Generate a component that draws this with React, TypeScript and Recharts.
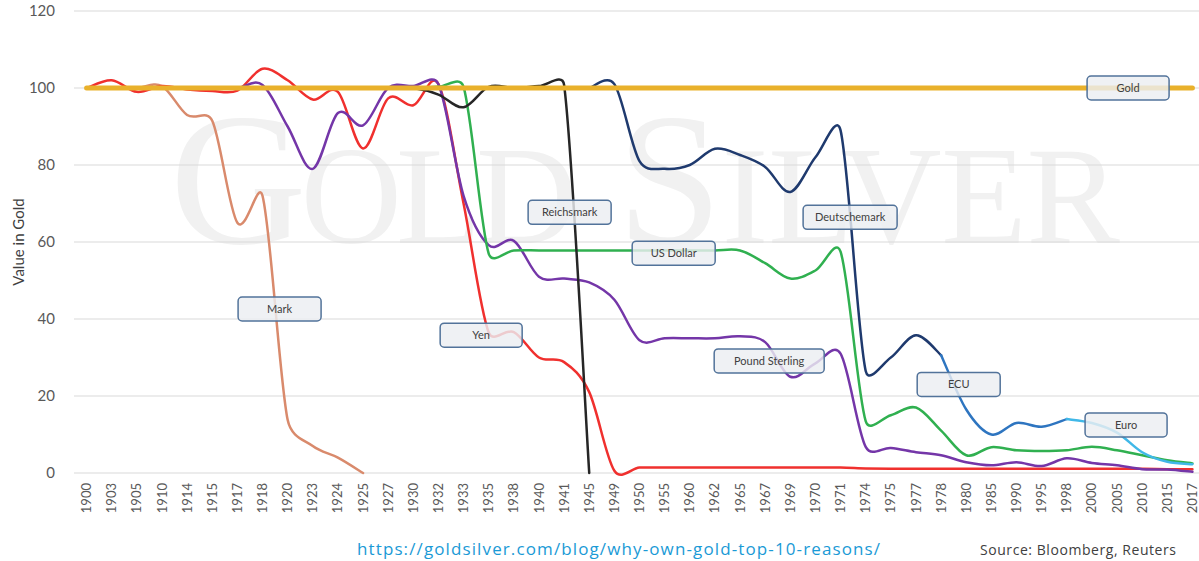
import React from 'react';
import { LineChart, Line, XAxis, YAxis, CartesianGrid, ReferenceDot } from 'recharts';

const years = ['1900','1903','1905','1910','1914','1915','1917','1918','1920','1923','1924','1925','1927','1930','1932','1933','1935','1938','1940','1941','1945','1949','1950','1955','1960','1962','1965','1967','1969','1970','1971','1974','1975','1977','1978','1980','1985','1990','1995','1998','2000','2005','2010','2015','2017'];

const gold = [100,100,100,100,100,100,100,100,100,100,100,100,100,100,100,100,100,100,100,100,100,100,100,100,100,100,100,100,100,100,100,100,100,100,100,100,100,100,100,100,100,100,100,100,100];

const mark = [100,100,100,100.5,93,91.5,65,72,13.8,7,4,0,
  null,null,null,null,null,null,null,null,null,null,null,null,null,null,null,null,null,null,null,null,null,null,null,null,null,null,null,null,null,null,null,null,null];

const yen = [100,102,99,100.5,99.6,99.2,99.3,105,102,97,99,84.3,97.3,95.5,101,70,36.5,36.6,30,28.8,21,0.6,1.4,1.4,1.4,1.4,1.4,1.4,1.4,1.4,1.4,1.2,1.1,1.1,1.1,1.1,1.1,1.1,1.1,1.1,1.1,1.1,1.1,1.0,1.0];

const pound = [100,100,100,100,100,100,100,100.8,90,79,93.5,90.3,100,100.5,101,72,59.2,60.3,51,50.5,49.5,45,34.5,35,35,35,35.5,34,25,28.5,31,6.8,6.5,5.4,4.6,2.8,2.0,2.8,1.8,3.8,2.6,2.0,1.0,0.9,0.3];

const usDollar = [100,100,100,100,100,100,100,100,100,100,100,100,100,100,100.3,100.3,57,57.8,57.8,57.8,57.8,57.8,57.8,57.8,57.8,57.8,57.8,54.5,50.5,52.6,57.5,13.5,15,17,11,4.6,6.7,5.9,5.7,5.9,6.8,5.9,4.6,3.3,2.5];

const reichsmark = [null,null,null,null,null,null,null,null,null,null,
  100,100,100,100,98.3,95,100.3,100,100.5,100.8,0,
  null,null,null,null,null,null,null,null,null,null,null,null,null,null,null,null,null,null,null,null,null,null,null,null];

const deutschemark = [null,null,null,null,null,null,null,null,null,null,null,null,null,null,null,null,null,null,null,null,
  100,101,81,79,80,84.2,82.6,79.5,73,82,89,26.5,30,35.8,30.6,
  null,null,null,null,null,null,null,null,null,null];

const ecu = [null,null,null,null,null,null,null,null,null,null,null,null,null,null,null,null,null,null,null,null,null,null,null,null,null,null,null,null,null,null,null,null,null,null,
  30.6,16.5,10,13,12,14,
  null,null,null,null,null];

const euro = [null,null,null,null,null,null,null,null,null,null,null,null,null,null,null,null,null,null,null,null,null,null,null,null,null,null,null,null,null,null,null,null,null,null,null,null,null,null,null,
  14,13,10.5,5.4,2.9,2.3];

const yTicks = [0,20,40,60,80,100,120];

// annotation callouts: label text, position in category-index units and value units
const calloutNames = ['Gold','Mark','Yen','Reichsmark','US Dollar','Deutschemark','Pound Sterling','ECU','Euro'];
const calloutIndex = [41.44,7.68,15.7,19.22,23.36,30.38,27.16,34.7,41.36];
const calloutValue = [100,42.6,35.8,67.7,57.1,66.4,29.1,23,12.5];
const calloutWidth = [82,83,82,83,83,94,110,83,82];

const chartData = years.map((y, i) => ({
  year: y,
  idx: i,
  gold: gold[i],
  mark: mark[i],
  yen: yen[i],
  pound: pound[i],
  usd: usDollar[i],
  reich: reichsmark[i],
  dm: deutschemark[i],
  ecu: ecu[i],
  euro: euro[i],
}));

// Excel-like smoothing: Bezier with 1/6 tangents, clamped to half the segment length
function smoothCurve(context: any) {
  let pts: number[][] = [];
  const dist = (a: number[], b: number[]) => Math.hypot(a[0] - b[0], a[1] - b[1]);
  return {
    areaStart() {},
    areaEnd() {},
    lineStart() { pts = []; },
    lineEnd() {
      const n = pts.length;
      if (n === 0) return;
      context.moveTo(pts[0][0], pts[0][1]);
      if (n === 1) return;
      for (let i = 0; i < n - 1; i++) {
        const p0 = pts[i - 1] || pts[i];
        const p1 = pts[i];
        const p2 = pts[i + 1];
        const p3 = pts[i + 2] || p2;
        const d12 = dist(p1, p2);
        const d02 = dist(p0, p2);
        const d13 = dist(p1, p3);
        const f = d02 > 0 ? Math.min(1 / 6, (d12 / 2) / d02) : 0;
        const g = d13 > 0 ? Math.min(1 / 6, (d12 / 2) / d13) : 0;
        context.bezierCurveTo(
          p1[0] + (p2[0] - p0[0]) * f,
          p1[1] + (p2[1] - p0[1]) * f,
          p2[0] - (p3[0] - p1[0]) * g,
          p2[1] - (p3[1] - p1[1]) * g,
          p2[0],
          p2[1]
        );
      }
    },
    point(x: number, y: number) { pts.push([+x, +y]); },
  };
}

const XTick = (props: any) => {
  const { x, y, payload } = props;
  return (
    <g transform={`translate(${x},${y})`}>
      <text transform="rotate(-90)" x={-10} y={0} dy="0.35em" textAnchor="end" fill="#595959" fontSize={13} fontFamily="Lato">
        {payload.value}
      </text>
    </g>
  );
};

const makeCallout = (name: string, w: number) => (props: any) => {
  const { cx, cy } = props;
  return (
    <g>
      <rect x={cx - w / 2} y={cy - 12} width={w} height={24} rx={4} ry={4} fill="#eceef1" fillOpacity={0.82} stroke="#52739a" strokeWidth={1.5} />
      <text x={cx} y={cy} dy="0.35em" textAnchor="middle" fontSize={11} fill="#404040" fontFamily="Lato">{name}</text>
    </g>
  );
};

const PAD = 12.57;

const lineSeries = [
  { key: 'mark', color: '#D98A6C', w: 2.5 },
  { key: 'yen', color: '#F0302E', w: 2.5 },
  { key: 'pound', color: '#7436A8', w: 2.5 },
  { key: 'usd', color: '#30B050', w: 2.5 },
  { key: 'reich', color: '#262626', w: 2.5 },
  { key: 'dm', color: '#1F3A6E', w: 2.5 },
  { key: 'ecu', color: '#2E75C0', w: 2.5 },
  { key: 'euro', color: '#40B8E8', w: 2.5 },
  { key: 'gold', color: '#E9B12B', w: 5 },
];

export default function App() {
  return (
    <div style={{ position: 'absolute', left: 0, top: 0, width: 1199, height: 561, overflow: 'hidden', background: '#ffffff' }}>
      <svg width={1199} height={561} style={{ position: 'absolute', left: 0, top: 0 }}>
        <text x={170} y={243} fontFamily="Liberation Serif" fill="#f1f1f1" textLength={407} lengthAdjust="spacing">
          <tspan fontSize={189}>G</tspan><tspan fontSize={140}>OLD</tspan>
        </text>
        <text x={617} y={243} fontFamily="Liberation Serif" fill="#f1f1f1" textLength={503} lengthAdjust="spacing">
          <tspan fontSize={189}>S</tspan><tspan fontSize={140}>ILVER</tspan>
        </text>
        <text x={18} y={242} transform="rotate(-90 18 242)" textAnchor="middle" dominantBaseline="central" fontFamily="Lato" fontSize={15} fill="#404040">Value in Gold</text>
        <text x={357} y={555} fontFamily="Open Sans" fontSize={17} fill="#1a9ad6" textLength={523} lengthAdjust="spacing">https://goldsilver.com/blog/why-own-gold-top-10-reasons/</text>
        <text x={980} y={555} fontFamily="Open Sans" fontSize={14} fill="#404040" textLength={196} lengthAdjust="spacing">Source: Bloomberg, Reuters</text>
      </svg>
      <div style={{ position: 'absolute', left: 0, top: 0 }}>
        <LineChart width={1215} height={561} data={chartData} margin={{ top: 11, right: 10, bottom: 0, left: 0 }}>
          <CartesianGrid vertical={false} stroke="#d9d9d9" strokeWidth={1} />
          <XAxis dataKey="year" interval={0} tick={<XTick />} tickLine={false} axisLine={false} tickSize={0} tickMargin={0} height={88} padding={{ left: PAD, right: PAD }} />
          <XAxis xAxisId="num" type="number" dataKey="idx" domain={[0, 44]} allowDataOverflow hide padding={{ left: PAD, right: PAD }} />
          <YAxis domain={[0, 120]} ticks={yTicks} width={74} tickLine={false} axisLine={false} tickSize={0} tickMargin={19} tick={{ fill: '#595959', fontSize: 15, fontFamily: 'Lato' }} />
          {lineSeries.map((s) => (
            <Line key={s.key} dataKey={s.key} type={smoothCurve as any} stroke={s.color} strokeWidth={s.w} dot={false} activeDot={false} isAnimationActive={false} strokeLinecap="round" strokeLinejoin="round" />
          ))}
          {calloutNames.map((n, i) => (
            <ReferenceDot key={n} xAxisId="num" x={calloutIndex[i]} y={calloutValue[i]} r={0} ifOverflow="visible" shape={makeCallout(n, calloutWidth[i])} />
          ))}
        </LineChart>
      </div>
    </div>
  );
}
